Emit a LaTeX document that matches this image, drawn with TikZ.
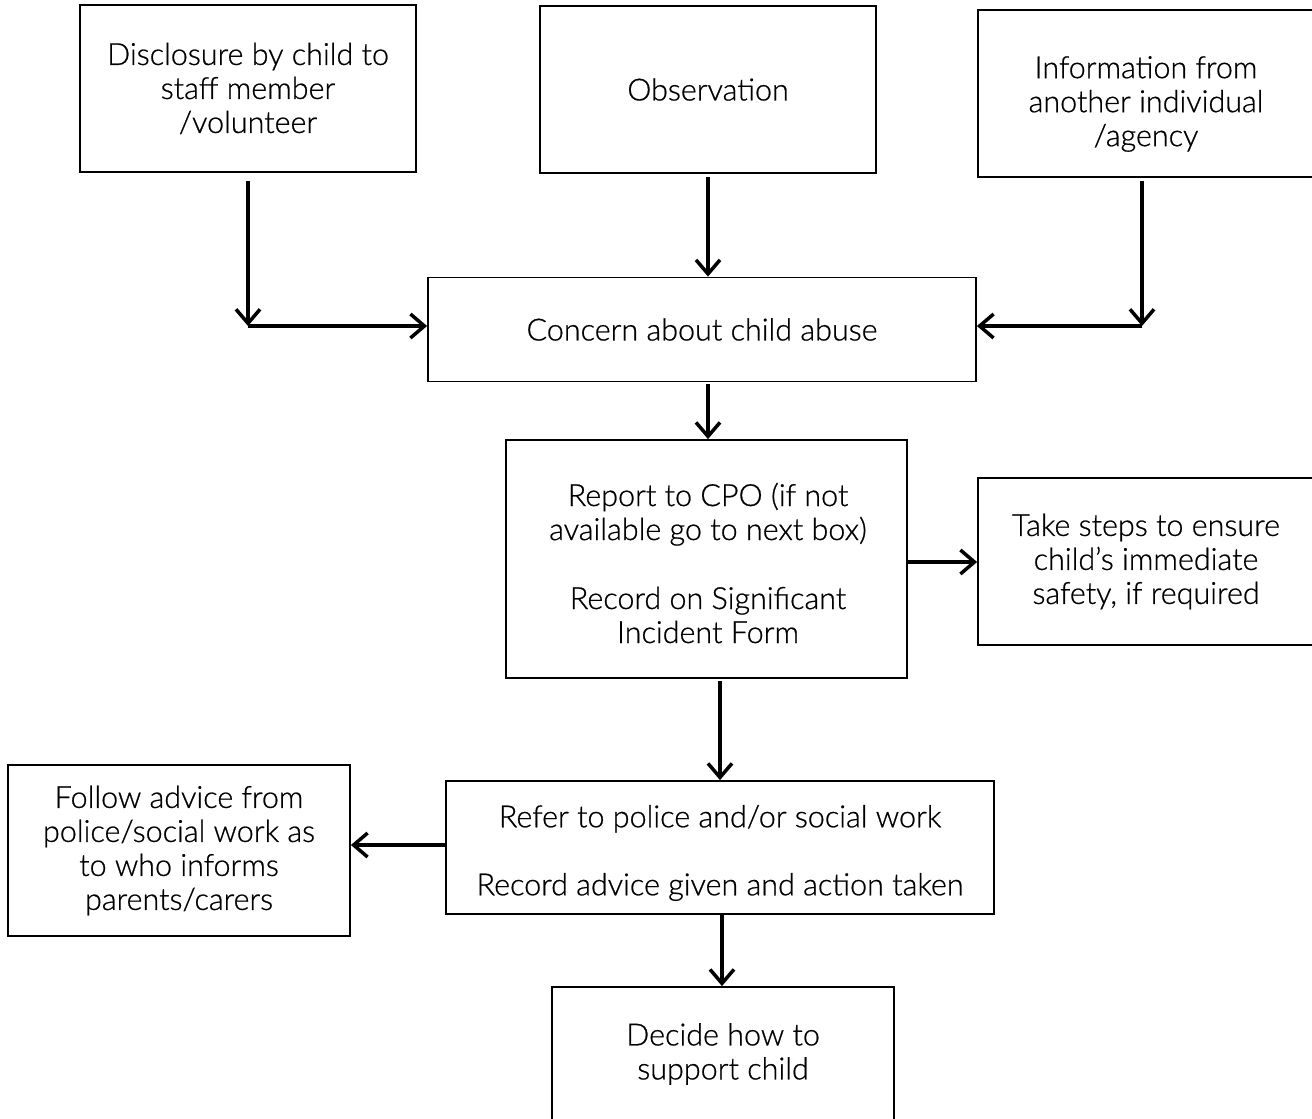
\documentclass[tikz,border=0pt]{standalone}
\usepackage{fontspec}
\setmainfont{Lato Light}[FakeBold=0.7]
\usetikzlibrary{arrows.meta}
\begin{document}
\begin{tikzpicture}[x=1pt,y=-1pt,
  box/.style={draw=black, line width=1.8pt, rectangle, inner sep=0pt, align=center,
    font=\fontsize{30.5}{34}\selectfont},
  txt/.style={inner sep=0pt, align=center, font=\fontsize{30.5}{34}\selectfont},
  arr/.style={line width=3.5pt, -{Straight Barb[length=14pt,width=24pt]}}]
\useasboundingbox (0,0) rectangle (1312,1119);
\fill[white] (0,0) rectangle (1312,1119);
\node[box, minimum width=336pt, minimum height=167pt] (d) at (248,88.5)
  {Disclosure by child to\\staff member\\/volunteer};
\node[box, minimum width=336pt, minimum height=167pt] (o) at (708,89.5) {Observation};
\node[box, minimum width=336pt, minimum height=167pt] (i) at (1146,93.5) {};
\node[txt] (it) at (1146,104)
  {Information from\\another individual\\/agency};
\node[box, minimum width=548pt, minimum height=104pt] (c) at (702,329.5) {Concern about child abuse};
\node[box, minimum width=401pt, minimum height=238pt] (r) at (706.5,559) {};
\node[txt] (rt) at (708,563)
  {Report to CPO (if not\\available go to next box)\\[35pt]Record on Significant\\Incident Form};
\node[box, minimum width=336pt, minimum height=167pt] (t) at (1146,561.5)
  {Take steps to ensure\\child’s immediate\\safety, if required};
\node[box, minimum width=548pt, minimum height=133pt] (rf) at (720,847.5) {};
\node[txt] (rft) at (720,853)
  {Refer to police and/or social work\\[34pt]Record advice given and action taken};
\node[box, minimum width=342pt, minimum height=171pt] (f) at (179,850.5)
  {Follow advice from\\police/social work as\\to who informs\\parents/carers};
\node[box, minimum width=342pt, minimum height=134pt] (dc) at (723,1054)
  {Decide how to\\support child};
\coordinate (j1) at (248,326);
\coordinate (j2) at (1142,326);
\draw[arr] ([yshift=-8pt]d.south) -- (j1);
\draw[arr] (j1) -- (c.west |- j1);
\draw[arr] ([yshift=-3pt]o.south) -- (o.south |- c.north);
\draw[arr] ([yshift=-3pt]i.south -| j2) -- (j2);
\draw[arr] (j2) -- (c.east |- j2);
\draw[arr] ([yshift=-2pt]c.south -| o.south) -- (o.south |- r.north);
\draw[arr] (r.east |- 0,562) -- (t.west |- 0,562);
\draw[arr] ([yshift=-2pt]r.south -| 720,0) -- (rf.north -| 720,0);
\draw[arr] (rf.west |- 0,845) -- (f.east |- 0,845);
\draw[arr] (rf.south -| 722,0) -- (dc.north -| 722,0);
\end{tikzpicture}
\end{document}
